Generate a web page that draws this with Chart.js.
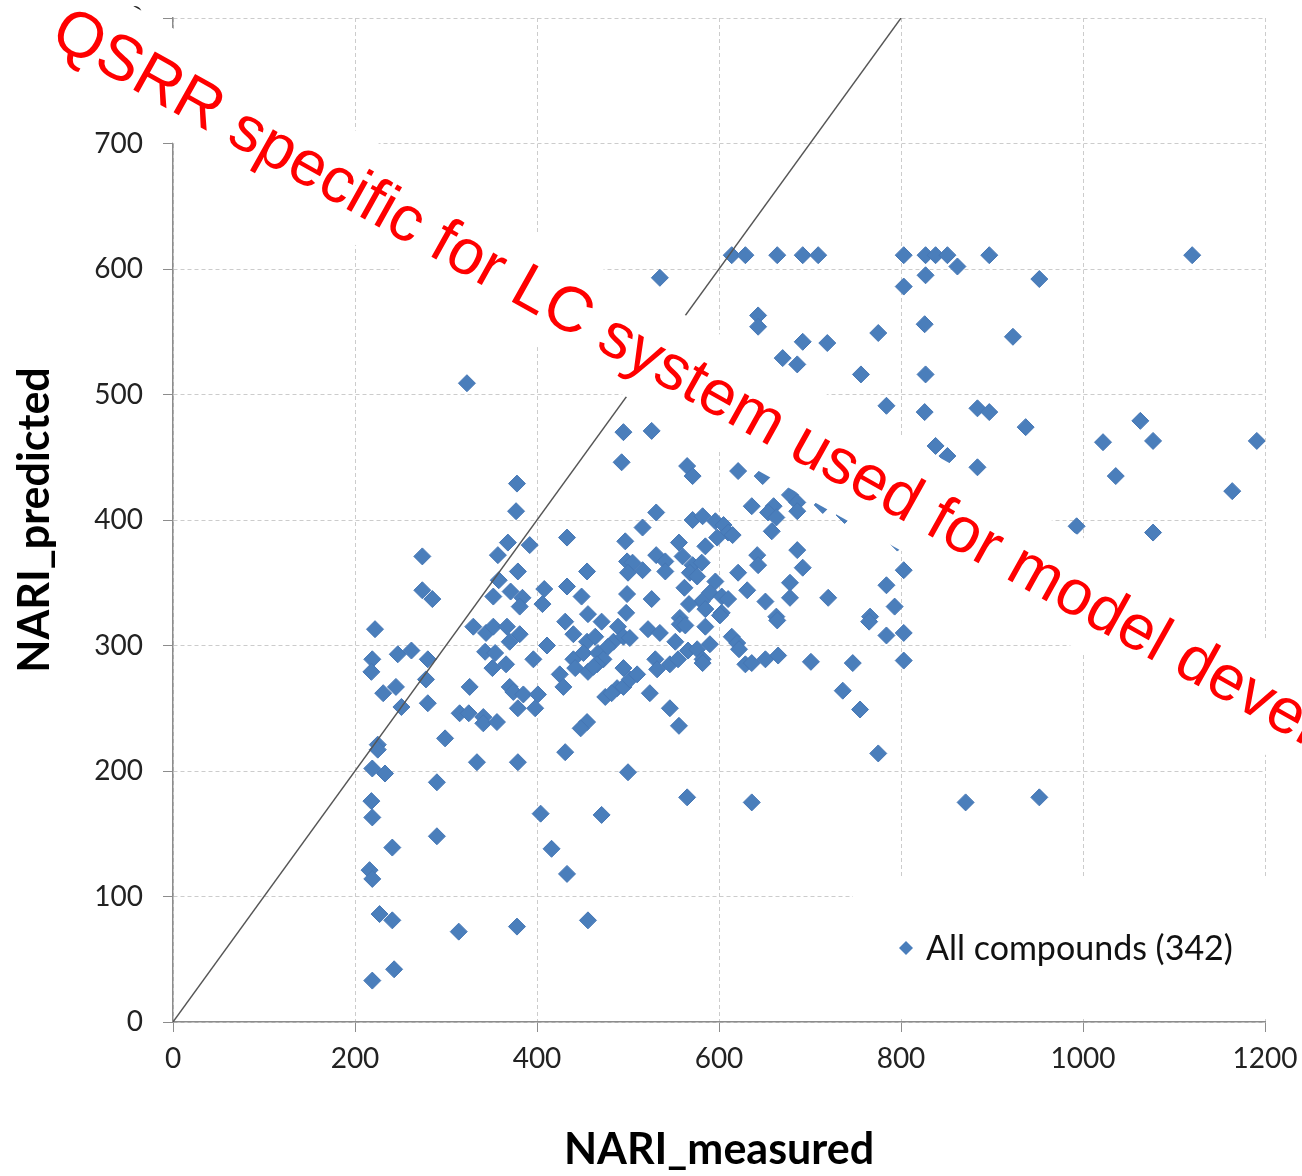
<!DOCTYPE html>
<html>
<head>
<meta charset="utf-8">
<title>NARI predicted vs measured</title>
<script src="https://cdn.jsdelivr.net/npm/chart.js@4.4.1/dist/chart.umd.min.js"></script>
<style>
  html, body { margin: 0; padding: 0; background: #fff; }
</style>
</head>
<body>
<canvas id="myChart" width="1302" height="1176"></canvas>
<script>
// values
const measured = [
  222, 219, 218, 247, 262, 280, 278, 245, 231, 251,
  280, 330, 344, 352, 367, 381, 370, 343, 354, 351,
  366, 326, 370, 374, 385, 401, 398, 379, 396, 411,
  315, 325, 341, 341, 356, 299, 225, 225, 334, 379,
  219, 233, 290, 218, 219, 290, 241, 216, 219, 227,
  241, 314, 378, 243, 219, 431, 440, 456, 471, 489,
  498, 522, 455, 464, 440, 442, 456, 451, 467, 473,
  466, 462, 484, 478, 495, 502, 495, 488, 495, 502,
  510, 475, 482, 524, 425, 429, 455, 448, 431, 500,
  404, 471, 416, 433, 456,
  535, 323, 495, 526, 493, 378, 377, 531, 516, 433,
  368, 392, 497, 274, 357, 531, 499, 505, 500, 516,
  379, 455, 358, 274, 285, 352, 371, 384, 381, 408,
  406, 433, 449, 499, 526,
  614, 629, 664, 692, 709, 803, 827, 838, 851, 862,
  827, 803, 643, 643, 826, 775, 692, 719, 670, 686,
  756, 827, 784, 826, 838, 851, 565, 571, 621, 648,
  678, 686, 686, 660, 654, 663, 636, 658, 571, 582,
  596, 605, 610, 615, 598, 585, 556, 541, 560, 571,
  581, 568, 541, 576, 562, 596, 590, 603, 610, 581,
  567, 585, 621, 631, 642, 643, 686, 692, 678, 678,
  651, 720, 784, 803, 793, 663, 766, 557, 603, 714,
  738, 796,
  535, 557, 563, 585, 601, 552, 530, 532, 546, 555,
  566, 576, 582, 590, 582, 614, 620, 622, 629, 636,
  651, 665, 664, 701, 747, 765, 784, 803, 803, 736,
  755, 775, 546, 556, 565, 636, 871,
  897, 1120, 952, 923, 884, 897, 937, 884, 1063, 1022,
  1077, 1191, 1036, 1164, 993, 1077, 952
];
const predicted = [
  313, 289, 279, 293, 296, 289, 273, 267, 262, 251,
  254, 315, 310, 315, 315, 309, 303, 295, 294, 282,
  285, 267, 267, 263, 261, 261, 250, 250, 289, 300,
  246, 246, 243, 238, 239, 226, 221, 217, 207, 207,
  202, 198, 191, 176, 163, 148, 139, 121, 114, 86,
  81, 72, 76, 42, 33, 319, 309, 325, 319, 315,
  326, 313, 303, 307, 289, 282, 279, 294, 294, 289,
  285, 283, 303, 299, 307, 306, 282, 266, 267, 273,
  277, 259, 262, 262, 277, 267, 239, 234, 215, 199,
  166, 165, 138, 118, 81,
  593, 509, 470, 471, 446, 429, 407, 406, 394, 386,
  382, 380, 383, 371, 372, 372, 367, 366, 358, 360,
  359, 359, 352, 344, 337, 339, 343, 338, 331, 345,
  333, 347, 339, 341, 337,
  611, 611, 611, 611, 611, 611, 611, 611, 611, 602,
  595, 586, 563, 554, 556, 549, 542, 541, 529, 524,
  516, 516, 491, 486, 459, 451, 443, 435, 439, 435,
  420, 414, 407, 411, 406, 402, 411, 391, 400, 403,
  399, 396, 390, 388, 386, 379, 382, 367, 371, 364,
  366, 358, 359, 355, 346, 351, 342, 339, 337, 335,
  333, 329, 358, 344, 372, 364, 376, 362, 350, 338,
  335, 338, 348, 360, 331, 323, 323, 322, 326, 412,
  404, 382,
  310, 317, 316, 315, 324, 303, 289, 281, 285, 289,
  296, 297, 289, 301, 286, 307, 302, 297, 285, 286,
  289, 292, 320, 287, 286, 319, 308, 310, 288, 264,
  249, 214, 250, 236, 179, 175, 175,
  611, 611, 592, 546, 489, 486, 474, 442, 479, 462,
  463, 463, 435, 423, 395, 390, 179
];
const seriesLabel = 'All compounds (342)';
const xTicks = [0, 200, 400, 600, 800, 1000, 1200];
const yTicks = [0, 100, 200, 300, 400, 500, 600, 700, 800];
const identityLine = [0, 800];
const stampText = 'QSRR specific for LC system used for model development';

const pointColor = '#4a7ebb';
const axisColor = '#8c8c8c';
const gridColor = '#cccccc';

const points = measured.map((x, i) => ({x: x, y: predicted[i]}));

// white legend box, label and the red stamp laid over the chart
const overlay = {
  id: 'overlay',
  afterDraw(chart) {
    const ctx = chart.ctx;
    ctx.save();
    ctx.fillStyle = '#fff';
    ctx.fillRect(853, 877, 415, 141);
    ctx.fillStyle = pointColor;
    ctx.beginPath();
    ctx.moveTo(906, 941);
    ctx.lineTo(913, 948);
    ctx.lineTo(906, 955);
    ctx.lineTo(899, 948);
    ctx.closePath();
    ctx.fill();
    ctx.fillStyle = '#111';
    ctx.font = '34px Lato';
    ctx.textBaseline = 'alphabetic';
    ctx.fillText(seriesLabel, 926, 960);

    ctx.translate(48, 42);
    ctx.rotate(29.25 * Math.PI / 180);
    ctx.fillStyle = '#fff';
    ctx.fillRect(-20, -73, 1700, 100);
    ctx.fillStyle = '#ff0000';
    ctx.font = '64px "Liberation Sans"';
    ctx.fillText(stampText, 0, 0);
    ctx.restore();
  }
};

const ctx = document.getElementById('myChart').getContext('2d');
const myChart = new Chart(ctx, {
  type: 'scatter',
  data: {
    datasets: [
      {
        label: seriesLabel,
        data: points,
        pointStyle: 'rectRot',
        pointRadius: 8.5,
        backgroundColor: pointColor,
        borderColor: '#4677b5',
        borderWidth: 1,
        order: 2
      },
      {
        type: 'line',
        label: 'y = x',
        data: identityLine.map(v => ({x: v, y: v})),
        borderColor: '#555',
        borderWidth: 1.4,
        pointRadius: 0,
        fill: false,
        order: 1
      }
    ]
  },
  options: {
    responsive: false,
    animation: false,
    events: [],
    layout: { padding: { top: 18, right: 37, left: 0, bottom: 0 } },
    plugins: { legend: { display: false }, tooltip: { enabled: false } },
    scales: {
      x: {
        type: 'linear',
        min: 0,
        max: 1200,
        afterBuildTicks: s => { s.ticks = xTicks.map(v => ({value: v})); },
        afterFit: s => { s.height = 154; s.paddingLeft = 0; s.paddingRight = 0; },
        grid: { color: gridColor, tickColor: axisColor, tickLength: 10, lineWidth: 1 },
        border: { color: axisColor, width: 1.5, dash: [4, 3] },
        ticks: {
          font: { family: 'Lato', size: 28 }, color: '#222', padding: 10, maxRotation: 0,
          callback: v => String(v)
        },
        title: {
          display: true,
          text: 'NARI_measured',
          color: '#000',
          font: { family: 'Lato', size: 43, weight: 'bold' },
          padding: { top: 0, bottom: 0 }
        }
      },
      y: {
        type: 'linear',
        min: 0,
        max: 800,
        afterBuildTicks: s => { s.ticks = yTicks.map(v => ({value: v})); },
        afterFit: s => { s.width = 173; s.paddingTop = 0; s.paddingBottom = 0; },
        grid: { color: gridColor, tickColor: axisColor, tickLength: 10, lineWidth: 1 },
        border: { color: axisColor, width: 1.5, dash: [4, 3] },
        ticks: { font: { family: 'Lato', size: 28 }, color: '#222', padding: 20, callback: v => String(v) },
        title: {
          display: true,
          text: 'NARI_predicted',
          color: '#000',
          font: { family: 'Lato', size: 43, weight: 'bold' },
          padding: { top: 9, bottom: 0 }
        }
      }
    }
  },
  plugins: [overlay]
});
</script>
</body>
</html>
